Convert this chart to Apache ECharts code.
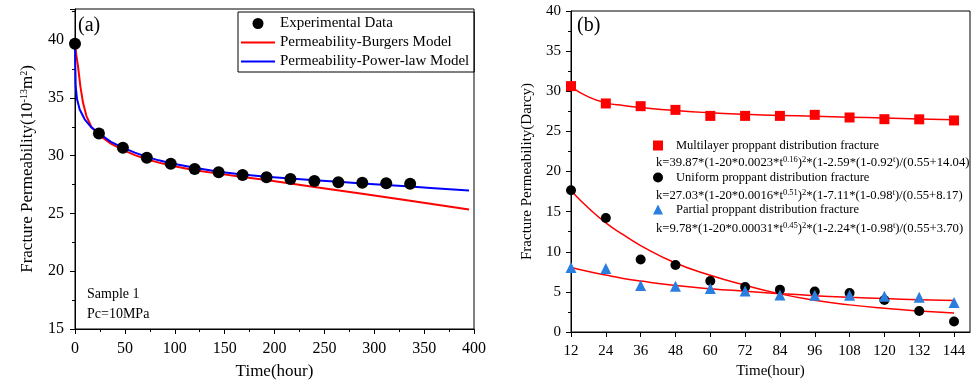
<!DOCTYPE html>
<html>
<head>
<meta charset="utf-8">
<script src="https://cdn.jsdelivr.net/npm/echarts@6/dist/echarts.min.js"></script>
<style>
  html, body { margin: 0; padding: 0; background: #fff; }
  #chart { width: 974px; height: 385px; }
</style>
</head>
<body>
<div id="chart"></div>
<script>
// (a) sample 1, Pc = 10 MPa
const timeA = [0, 24, 48, 72, 96, 120, 144, 168, 192, 216, 240, 264, 288, 312, 336];
const expA = [39.7, 31.93, 30.69, 29.83, 29.31, 28.86, 28.57, 28.34, 28.14, 27.99, 27.82, 27.71, 27.65, 27.62, 27.57];

const burgersT = [0, 0.4, 1.5, 3, 5.4, 8, 11.4, 16.4, 24, 36, 48, 60, 72, 84, 96, 120, 144, 168, 192, 216, 240, 288, 336, 395];
const burgersK = [39.7, 39.4, 38.6, 37.75, 36.0, 34.6, 33.45, 32.5, 31.8, 31.05, 30.5, 30.05, 29.7, 29.4, 29.15, 28.75, 28.45, 28.15, 27.9, 27.6, 27.3, 26.7, 26.1, 25.35];

const powerT = [0, 0.3, 0.7, 2, 4.7, 9.7, 16.4, 24, 36, 48, 60, 72, 84, 96, 120, 144, 168, 192, 216, 240, 264, 288, 312, 336, 360, 395];
const powerK = [39.7, 37.75, 36.0, 34.9, 34.0, 33.15, 32.45, 31.95, 31.2, 30.7, 30.27, 29.9, 29.6, 29.35, 28.95, 28.62, 28.38, 28.18, 28.02, 27.88, 27.74, 27.6, 27.46, 27.33, 27.19, 26.99];

// (b) three proppant distributions
const timeB = [12, 24, 36, 48, 60, 72, 84, 96, 108, 120, 132, 144];
const multilayer = [30.64, 28.48, 28.14, 27.68, 26.93, 26.93, 26.93, 27.06, 26.73, 26.52, 26.5, 26.36];
const uniform = [17.67, 14.2, 9.03, 8.35, 6.36, 5.61, 5.28, 5.04, 4.86, 3.99, 2.62, 1.3];
const partial = [8.03, 7.9, 5.79, 5.7, 5.41, 5.11, 4.61, 4.58, 4.58, 4.45, 4.33, 3.67];

// fitted curves
const fitT = [12, 18, 24, 30, 36, 48, 60, 72, 84, 96, 108, 120, 132, 144];
const multilayerFit = [30.55, 29.3, 28.55, 28.22, 27.98, 27.6, 27.32, 27.13, 26.99, 26.88, 26.77, 26.66, 26.55, 26.44];
const uniformFit = [17.6, 15.45, 13.6, 12.12, 10.77, 8.6, 7.07, 5.82, 4.75, 3.95, 3.38, 2.95, 2.62, 2.37];
const partialFit = [8.05, 7.55, 7.1, 6.68, 6.35, 5.8, 5.4, 5.08, 4.78, 4.52, 4.32, 4.16, 4.03, 3.91];

const serif = '"Liberation Serif", "Times New Roman", serif';
const zip = (xs, ys) => xs.map((x, i) => [x, ys[i]]);
const lineIcon = 'path://M0,0H34V2.2H0Z';

const chart = echarts.init(document.getElementById('chart'));

// shared axis look
function axisStyle(labelSize, margin) {
    return {
        axisLine: { show: true, onZero: false, lineStyle: { color: '#000', width: 1 } },
        axisTick: { show: true, inside: false, length: 5, lineStyle: { color: '#000' } },
        axisLabel: { color: '#000', fontFamily: serif, fontSize: labelSize, margin: margin },
        splitLine: { show: false },
        nameTextStyle: { color: '#000', fontFamily: serif }
    };
}

const supRich = {
    sup: { fontSize: 10, lineHeight: 10, verticalAlign: 'top', fontFamily: serif, color: '#000' }
};

const formulaRich = {
    sup: { fontSize: 8.5, lineHeight: 9, verticalAlign: 'top', fontFamily: serif, color: '#000' }
};

function formulaText(top, txt) {
    return {
        type: 'text', left: 656, top: top,
        style: { text: txt, fontFamily: serif, fontSize: 12.7, lineHeight: 16, fill: '#000', rich: formulaRich }
    };
}

function fitLine(name, ys) {
    return {
        name: name, type: 'line', xAxisIndex: 1, yAxisIndex: 1,
        data: zip(fitT, ys), symbol: 'none', smooth: 0.5,
        lineStyle: { color: '#ff0000', width: 1.5 }, z: 2
    };
}

chart.setOption({
    animation: false,
    textStyle: { fontFamily: serif },
    grid: [
        { left: 75, right: 500, top: 9, bottom: 54, show: true, borderColor: '#000', borderWidth: 1, containLabel: false },
        { left: 571, right: 4, top: 11, bottom: 53, show: true, borderColor: '#000', borderWidth: 1, containLabel: false }
    ],
    xAxis: [
        Object.assign(axisStyle(16, 12), {
            gridIndex: 0, type: 'value', min: 0, max: 400, interval: 50,
            minorTick: { show: true, splitNumber: 2, length: 3, lineStyle: { color: '#000' } },
            name: 'Time(hour)', nameLocation: 'middle', nameGap: 34,
            nameTextStyle: { color: '#000', fontFamily: serif, fontSize: 17 }
        }),
        Object.assign(axisStyle(15, 12), {
            gridIndex: 1, type: 'value', min: 12, max: 149.5, interval: 12,
            name: 'Time(hour)', nameLocation: 'middle', nameGap: 32,
            nameTextStyle: { color: '#000', fontFamily: serif, fontSize: 15 }
        })
    ],
    yAxis: [
        Object.assign(axisStyle(16, 11), {
            gridIndex: 0, type: 'value', min: 15, max: 42.7, interval: 5,
            minorTick: { show: true, splitNumber: 2, length: 3, lineStyle: { color: '#000' } },
            name: 'Fracture Permeability(10{sup|-13}m{sup|2})', nameLocation: 'middle', nameGap: 39,
            nameTextStyle: { color: '#000', fontFamily: serif, fontSize: 17, rich: supRich }
        }),
        Object.assign(axisStyle(15, 10), {
            gridIndex: 1, type: 'value', min: 0, max: 40, interval: 5,
            minorTick: { show: true, splitNumber: 2, length: 3, lineStyle: { color: '#000' } },
            name: 'Fracture Permeability(Darcy)', nameLocation: 'middle', nameGap: 36,
            nameTextStyle: { color: '#000', fontFamily: serif, fontSize: 15 }
        })
    ],
    legend: [
        {
            data: [
                { name: 'Experimental Data', icon: 'circle' },
                { name: 'Permeability-Burgers Model', icon: lineIcon },
                { name: 'Permeability-Power-law Model', icon: lineIcon }
            ],
            orient: 'vertical', left: 238, top: 12,
            itemWidth: 34, itemHeight: 11, itemGap: 4,
            padding: [4, 5, 3, 3],
            borderColor: '#000', borderWidth: 1,
            textStyle: { color: '#000', fontFamily: serif, fontSize: 15 }
        },
        {
            data: [
                { name: 'Multilayer proppant distribution fracture', icon: 'rect' },
                { name: 'Uniform proppant distribution fracture', icon: 'circle' },
                { name: 'Partial proppant distribution fracture', icon: 'triangle' }
            ],
            orient: 'vertical', left: 653, top: 139,
            itemWidth: 10, itemHeight: 10, itemGap: 19,
            padding: 0,
            textStyle: { color: '#000', fontFamily: serif, fontSize: 12.5, padding: [0, 0, 0, 8] }
        }
    ],
    graphic: [
        { type: 'text', left: 78, top: 16, style: { text: '(a)', fontFamily: serif, fontSize: 20, fill: '#000' } },
        { type: 'text', left: 577, top: 16, style: { text: '(b)', fontFamily: serif, fontSize: 20, fill: '#000' } },
        { type: 'text', left: 87, top: 287, style: { text: 'Sample 1', fontFamily: serif, fontSize: 14, fill: '#000' } },
        { type: 'text', left: 87, top: 307, style: { text: 'Pc=10MPa', fontFamily: serif, fontSize: 14, fill: '#000' } },
        formulaText(155, 'k=39.87*(1-20*0.0023*t{sup|0.16}){sup|2}*(1-2.59*(1-0.92{sup|t})/(0.55+14.04)'),
        formulaText(188, 'k=27.03*(1-20*0.0016*t{sup|0.51}){sup|2}*(1-7.11*(1-0.98{sup|t})/(0.55+8.17)'),
        formulaText(221, 'k=9.78*(1-20*0.00031*t{sup|0.45}){sup|2}*(1-2.24*(1-0.98{sup|t})/(0.55+3.70)')
    ],
    series: [
        {
            name: 'Permeability-Burgers Model', type: 'line', xAxisIndex: 0, yAxisIndex: 0,
            data: zip(burgersT, burgersK), symbol: 'none', smooth: false,
            lineStyle: { color: '#ff0000', width: 2 }, itemStyle: { color: '#ff0000' }, z: 2
        },
        {
            name: 'Permeability-Power-law Model', type: 'line', xAxisIndex: 0, yAxisIndex: 0,
            data: zip(powerT, powerK), symbol: 'none', smooth: false,
            lineStyle: { color: '#0000ff', width: 2 }, itemStyle: { color: '#0000ff' }, z: 3
        },
        {
            name: 'Experimental Data', type: 'scatter', xAxisIndex: 0, yAxisIndex: 0,
            data: zip(timeA, expA), symbol: 'circle', symbolSize: 12,
            itemStyle: { color: '#000', opacity: 1 }, z: 4
        },
        fitLine('multilayer fit', multilayerFit),
        fitLine('uniform fit', uniformFit),
        fitLine('partial fit', partialFit),
        {
            name: 'Multilayer proppant distribution fracture', type: 'scatter', xAxisIndex: 1, yAxisIndex: 1,
            data: zip(timeB, multilayer), symbol: 'rect', symbolSize: 10,
            itemStyle: { color: '#ff0000', opacity: 1 }, z: 4
        },
        {
            name: 'Uniform proppant distribution fracture', type: 'scatter', xAxisIndex: 1, yAxisIndex: 1,
            data: zip(timeB, uniform), symbol: 'circle', symbolSize: 10,
            itemStyle: { color: '#000', opacity: 1 }, z: 4
        },
        {
            name: 'Partial proppant distribution fracture', type: 'scatter', xAxisIndex: 1, yAxisIndex: 1,
            data: zip(timeB, partial), symbol: 'triangle', symbolSize: 11,
            itemStyle: { color: '#2a7ee0', opacity: 1 }, z: 5
        }
    ]
});

// hide the non-round max labels (42.7 and 149.5)
chart.setOption({
    xAxis: [{}, { axisLabel: { showMaxLabel: false } }],
    yAxis: [{ axisLabel: { showMaxLabel: false } }, {}]
});
</script>
</body>
</html>
